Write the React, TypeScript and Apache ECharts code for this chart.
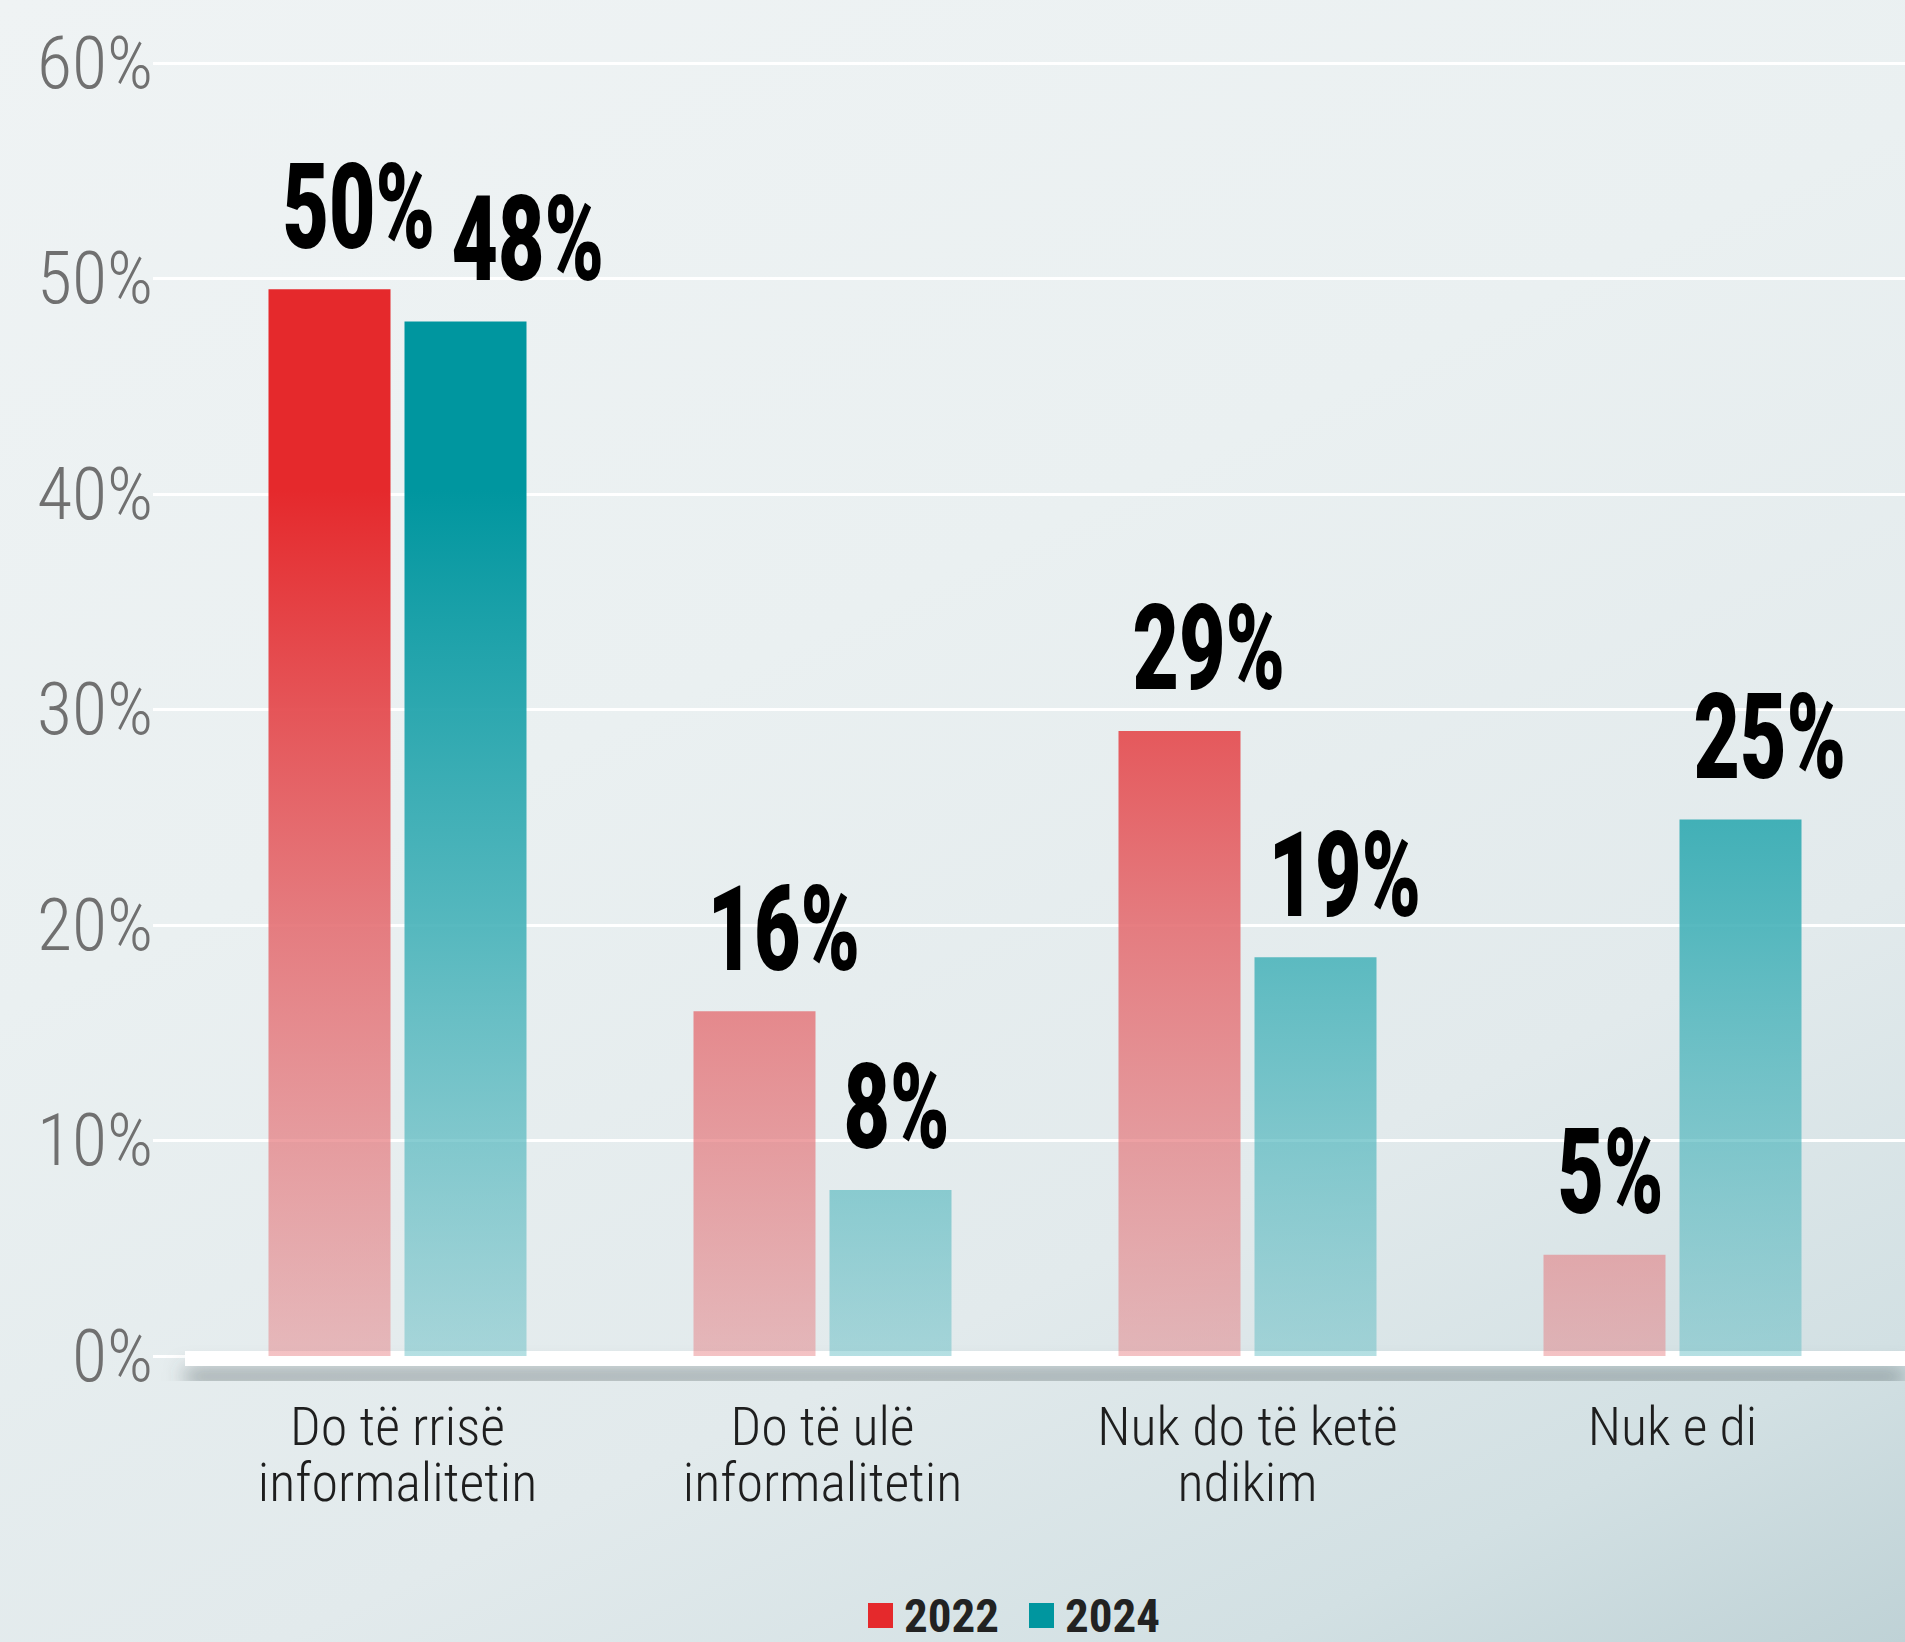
import React, { useEffect, useRef } from "react";
import * as echarts from "echarts";

const categories = [
  "Do të rrisë\ninformalitetin",
  "Do të ulë\ninformalitetin",
  "Nuk do të ketë\nndikim",
  "Nuk e di",
];
const seriesNames = ["2022", "2024"];
const values2022 = [49.5, 16, 29, 4.7];
const values2024 = [48, 7.7, 18.5, 24.9];
const yTicks = [0, 10, 20, 30, 40, 50, 60];

const W = 1905;
const H = 1642;
const TOP = 63;
const BOTTOM = 286;
const ZERO_Y = H - BOTTOM;
const BAR_W = 122;
const BAR_GAP = 14;
const LABEL_FONT = 118;
const LABEL_SCALE = 0.68;

const RED = "#e5292c";
const TEAL = "#00969f";

const NARROW = "'Liberation Sans Narrow', 'Roboto Condensed', 'DejaVu Sans Condensed', sans-serif";

function makeGrad(top: string, mid: string, bottom: string) {
  return new echarts.graphic.LinearGradient(
    0, TOP, 0, ZERO_Y,
    [
      { offset: 0, color: top },
      { offset: 0.33, color: top },
      { offset: 0.67, color: mid },
      { offset: 1, color: bottom },
    ],
    true
  );
}

function labelText(v: number) {
  return Math.round(v) + "%";
}
function labelWidth(t: string) {
  const digits = t.length - 1;
  return LABEL_SCALE * LABEL_FONT * (0.58 * digits + 0.82);
}

export default function App() {
  const ref = useRef<HTMLDivElement>(null);
  useEffect(() => {
    if (!ref.current) return;
    const chart = echarts.init(ref.current, undefined, { renderer: "svg" });

    const allVals = [values2022, values2024];
    const labelSeries = (sIdx: number) => ({
      type: "custom",
      xAxisIndex: 0,
      yAxisIndex: 0,
      z: 5,
      silent: true,
      data: allVals[sIdx].map((v, i) => [i, v]),
      renderItem: (params: any, api: any) => {
        const idx = api.value(0);
        const v = api.value(1);
        const pt = api.coord([idx, v]);
        const total = BAR_W * 2 + BAR_GAP;
        const groupLeft = pt[0] - total / 2;
        const barLeft = groupLeft + sIdx * (BAR_W + BAR_GAP);
        let x = barLeft + 14;
        if (sIdx === 1) {
          const other = allVals[0][idx];
          const otherY = api.coord([idx, other])[1];
          if (Math.abs(otherY - pt[1]) < 100) {
            const otherRight = groupLeft + 14 + labelWidth(labelText(other));
            x = Math.max(x, otherRight + 10);
          }
        }
        return {
          type: "text",
          x,
          y: pt[1] - 23,
          scaleX: LABEL_SCALE,
          style: {
            text: labelText(v),
            font: `900 ${LABEL_FONT}px Roboto, 'DejaVu Sans', sans-serif`,
            fill: "#000",
            align: "left",
            verticalAlign: "bottom",
          },
        };
      },
    });

    chart.setOption({
      animation: false,
      backgroundColor: "transparent",
      grid: [
        { left: 185, right: 20, top: TOP, bottom: BOTTOM },
        { left: 153, right: 0, top: TOP, bottom: BOTTOM },
      ],
      xAxis: [
        {
          type: "category",
          gridIndex: 0,
          data: categories,
          axisLine: { show: false },
          axisTick: { show: false },
          axisLabel: {
            interval: 0,
            margin: 42,
            color: "#1e1e1e",
            fontFamily: NARROW,
            fontWeight: 300,
            fontSize: 54,
            lineHeight: 56,
          },
        },
        { type: "value", gridIndex: 1, show: false, min: 0, max: 1 },
      ],
      yAxis: [
        { type: "value", gridIndex: 0, min: 0, max: 60, interval: 10, show: false },
        {
          type: "value",
          gridIndex: 1,
          min: yTicks[0],
          max: yTicks[yTicks.length - 1],
          interval: 10,
          axisLine: { show: false },
          axisTick: { show: false },
          splitLine: { show: true, lineStyle: { color: "#ffffff", width: 3 } },
          axisLabel: {
            margin: 0,
            color: "#707070",
            fontFamily: NARROW,
            fontWeight: 300,
            fontSize: 72,
            formatter: "{value}%",
            padding: [0, 0, 22, 0],
          },
        },
      ],
      legend: {
        left: 868,
        bottom: 3,
        padding: 0,
        itemWidth: 25,
        itemHeight: 25,
        itemGap: 30,
        icon: "rect",
        textStyle: {
          color: "#222",
          fontFamily: NARROW,
          fontWeight: "bold",
          fontSize: 47,
          padding: [0, 0, 0, 6],
        },
        data: [
          { name: seriesNames[0], itemStyle: { color: RED } },
          { name: seriesNames[1], itemStyle: { color: TEAL } },
        ],
      },
      graphic: [
        {
          type: "rect",
          z: 1,
          shape: { x: 185, y: ZERO_Y - 5, width: W - 185, height: 15 },
          style: {
            fill: "#ffffff",
            shadowColor: "rgba(70,85,90,0.55)",
            shadowBlur: 20,
            shadowOffsetY: 18,
          },
        },
      ],
      series: [
        {
          name: seriesNames[0],
          type: "bar",
          xAxisIndex: 0,
          yAxisIndex: 0,
          z: 3,
          barWidth: BAR_W,
          barGap: (BAR_GAP / BAR_W) * 100 + "%",
          data: values2022,
          itemStyle: {
            color: makeGrad(RED, "rgba(228,112,116,0.9)", "rgba(229,120,124,0.45)"),
          },
        },
        {
          name: seriesNames[1],
          type: "bar",
          xAxisIndex: 0,
          yAxisIndex: 0,
          z: 3,
          barWidth: BAR_W,
          data: values2024,
          itemStyle: {
            color: makeGrad(TEAL, "rgba(70,178,185,0.9)", "rgba(90,185,192,0.45)"),
          },
        },
        labelSeries(0),
        labelSeries(1),
      ],
    });
    return () => chart.dispose();
  }, []);

  return (
    <div
      ref={ref}
      style={{
        position: "absolute",
        left: 0,
        top: 0,
        width: W,
        height: H,
        background:
          "linear-gradient(155deg, #eff3f4 0%, #eaf0f1 40%, #e2eaec 70%, #d2e0e3 88%, #bfd2d6 100%)",
      }}
    />
  );
}
